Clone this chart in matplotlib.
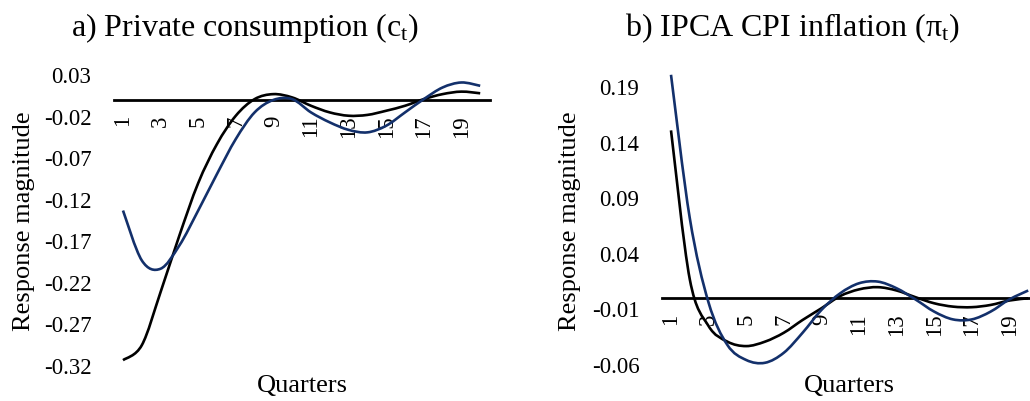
import numpy as np
import matplotlib
matplotlib.use("Agg")
import matplotlib.pyplot as plt
from matplotlib.path import Path
from matplotlib.patches import PathPatch

plt.rcParams['font.family'] = ['Liberation Serif', 'DejaVu Serif']
plt.rcParams['mathtext.fontset'] = 'custom'
plt.rcParams['mathtext.rm'] = 'Liberation Serif'
plt.rcParams['mathtext.it'] = 'Liberation Serif:italic'

# ---------------- data ----------------
quarters = list(range(1, 21))
tick_quarters = list(range(1, 21, 2))
tick_labels = [str(q) for q in tick_quarters]

cons_black = [-0.313, -0.295, -0.231, -0.163, -0.100, -0.053, -0.019, 0.001, 0.007, 0.003,
              -0.007, -0.015, -0.019, -0.018, -0.013, -0.007, 0.001, 0.007, 0.010, 0.008]
cons_blue = [-0.133, -0.193, -0.203, -0.175, -0.133, -0.089, -0.047, -0.015, 0.000, 0.001,
             -0.015, -0.027, -0.036, -0.039, -0.031, -0.015, 0.001, 0.015, 0.021, 0.017]

infl_black = [0.151, 0.017, -0.025, -0.039, -0.043, -0.039, -0.031, -0.0195, -0.009, 0.002,
              0.008, 0.010, 0.007, 0.001, -0.0045, -0.0075, -0.008, -0.006, -0.002, 0.000]
infl_blue = [0.201, 0.072, -0.004, -0.042, -0.0555, -0.058, -0.049, -0.031, -0.0105, 0.0045,
             0.0135, 0.015, 0.009, -0.001, -0.012, -0.019, -0.019, -0.012, -0.001, 0.007]

cons_yticks = [0.03, -0.02, -0.07, -0.12, -0.17, -0.22, -0.27, -0.32]
infl_yticks = [0.19, 0.14, 0.09, 0.04, -0.01, -0.06]

BLACK = '#000000'
BLUE = '#13306b'


def smooth_line(ax, x, y, color, lw=1.9, z=3):
    pts = np.column_stack([x, y]).astype(float)
    n = len(pts)
    verts = [pts[0]]
    codes = [Path.MOVETO]
    for i in range(n - 1):
        p0 = pts[i - 1] if i > 0 else pts[i]
        p1 = pts[i]
        p2 = pts[i + 1]
        p3 = pts[i + 2] if i + 2 < n else pts[i + 1]
        c1 = p1 + (p2 - p0) / 6.0
        c2 = p2 - (p3 - p1) / 6.0
        verts += [c1, c2, p2]
        codes += [Path.CURVE4] * 3
    patch = PathPatch(Path(verts, codes), fill=False, edgecolor=color,
                      lw=lw, clip_on=False, zorder=z, capstyle='butt')
    ax.add_patch(patch)


W, H = 1030, 401
fig = plt.figure(figsize=(W / 100, H / 100), dpi=100)


def px(x0, y_top, w, y_bot):
    return [x0 / W, 1 - y_bot / H, w / W, (y_bot - y_top) / H]


def style_axis(ax, yticks, ylim):
    ax.set_xlim(0.5, 20.5)
    ax.set_ylim(*ylim)
    for s in ['left', 'right', 'top']:
        ax.spines[s].set_visible(False)
    ax.spines['bottom'].set_position(('data', 0))
    ax.spines['bottom'].set_linewidth(2.0)
    ax.spines['bottom'].set_zorder(2)
    ax.set_xticks(tick_quarters)
    ax.set_xticklabels(tick_labels, rotation=90, fontsize=16.5, va='top', ha='center')
    ax.set_yticks(yticks)
    ax.set_yticklabels([f"{v:.2f}" for v in yticks], fontsize=16.5)
    ax.tick_params(axis='both', length=0)
    ax.tick_params(axis='x', pad=11)
    ax.tick_params(axis='y', pad=16)
    ax.patch.set_visible(False)


ax1 = fig.add_axes(px(113.6, 75, 376, 366))
style_axis(ax1, cons_yticks, (-0.32, 0.03))
smooth_line(ax1, quarters, cons_black, BLACK)
smooth_line(ax1, quarters, cons_blue, BLUE, z=4)

ax2 = fig.add_axes(px(661.6, 75.9, 376, 365))
style_axis(ax2, infl_yticks, (-0.06, 0.20))
smooth_line(ax2, quarters, infl_black, BLACK)
smooth_line(ax2, quarters, infl_blue, BLUE, z=4)

# titles and axis labels
fig.text(245 / W, 1 - 28 / H, r"a) Private consumption (c$_\mathrm{t}$)", fontsize=23,
         ha='center', va='center')
fig.text(793 / W, 1 - 28 / H, r"b) IPCA CPI inflation (π$_\mathrm{t}$)", fontsize=23,
         ha='center', va='center')
for xc in (24, 570):
    fig.text(xc / W, 1 - 221 / H, "Response magnitude", fontsize=19, rotation=90,
             ha='center', va='center')
for xc in (302, 849):
    fig.text(xc / W, 1 - 386 / H, "Quarters", fontsize=19, ha='center', va='center')

fig.savefig("out.png", dpi=100, facecolor='white')
